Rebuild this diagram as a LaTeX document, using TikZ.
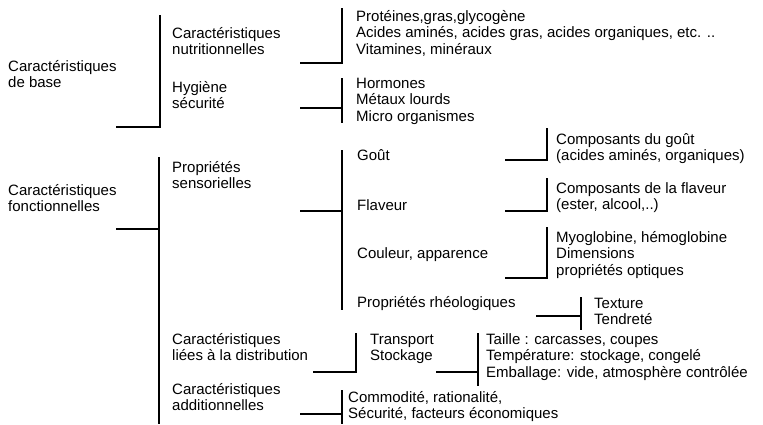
\documentclass[tikz,border=0pt]{standalone}
\usepackage{fontspec}
\setmainfont{Liberation Sans}
\begin{document}
\begin{tikzpicture}[x=1pt,y=-1pt,
  txt/.style={anchor=base west,inner sep=0pt,align=left,
    font=\fontsize{15}{16.6}\selectfont},
  br/.style={line width=1.8pt,line cap=butt}]
\useasboundingbox (0,0) rectangle (763,424);
% text nodes (x, last-line baseline)
\node[txt] (base) at (8,87.6) {Caractéristiques\\de base};
\node[txt] (nutr) at (172,54.6) {Caractéristiques\\nutritionnelles};
\node[txt] (hyg) at (172,108.6) {Hygiène\\sécurité};
\node[txt] (prot) at (356,54.2) {Protéines,gras,glycogène\\Acides aminés, acides gras, acides organiques, etc. ..\\Vitamines, minéraux};
\node[txt] (horm) at (356,121.2) {Hormones\\Métaux lourds\\Micro organismes};
\node[txt] (fonc) at (8,211.6) {Caractéristiques\\fonctionnelles};
\node[txt] (sens) at (172,188.6) {Propriétés\\sensorielles};
\node[txt] (gout) at (357,160) {Goût};
\node[txt] (flav) at (357,210) {Flaveur};
\node[txt] (coul) at (357,258) {Couleur, apparence};
\node[txt] (rheo) at (357,307) {Propriétés rhéologiques};
\node[txt] (compg) at (556,160.6) {Composants du goût\\(acides aminés, organiques)};
\node[txt] (compf) at (556,209.6) {Composants de la flaveur\\(ester, alcool,..)};
\node[txt] (myo) at (556,275.2) {Myoglobine, hémoglobine\\Dimensions\\propriétés optiques};
\node[txt] (textu) at (594,324.6) {Texture\\Tendreté};
\node[txt] (dist) at (172,360.6) {Caractéristiques\\liées à la distribution};
\node[txt] (trans) at (370,360.6) {Transport\\Stockage};
\node[txt] (taille) at (486,377.2) {Taille : carcasses, coupes\\Température: stockage, congelé\\Emballage: vide, atmosphère contrôlée};
\node[txt] (addi) at (172,410.6) {Caractéristiques\\additionnelles};
\node[txt] (comm) at (348,418.6) {Commodité, rationalité,\\Sécurité, facteurs économiques};
% brackets
\draw[br] (116,127) -- (160,127) (160,15) -- (160,127.9);
\draw[br] (300,63) -- (342,63) (342,8) -- (342,63.9);
\draw[br] (300,108) -- (342,108) (342,78) -- (342,123);
\draw[br] (116,229) -- (159,229) (159,157) -- (159,424);
\draw[br] (300,211) -- (342,211) (342,150) -- (342,310);
\draw[br] (505,160) -- (547,160) (547,128) -- (547,160.9);
\draw[br] (505,211) -- (547,211) (547,178) -- (547,211.9);
\draw[br] (505,278) -- (547,278) (547,227) -- (547,278.9);
\draw[br] (536,316) -- (581,316) (581,297) -- (581,330);
\draw[br] (313,372) -- (356,372) (356,333) -- (356,372.9);
\draw[br] (436,372) -- (478,372) (478,333) -- (478,386);
\draw[br] (300,414) -- (342,414) (342,390) -- (342,424);
\end{tikzpicture}
\end{document}
